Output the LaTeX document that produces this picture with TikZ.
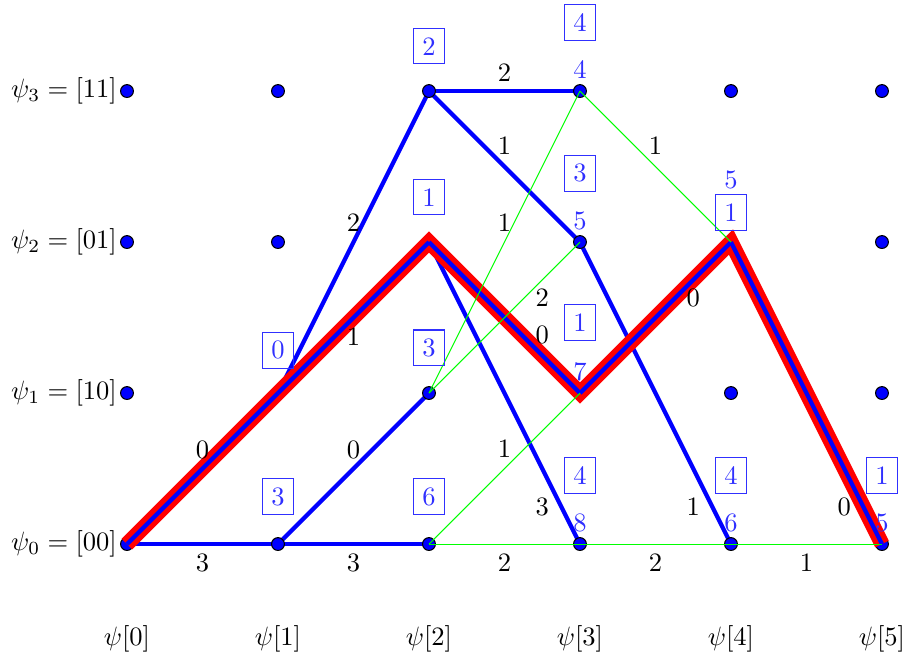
\documentclass[tikz,border=0pt]{standalone}
\usepackage{amsmath,amssymb}
\usepackage{xcolor}
\usepackage{tikz}
\usetikzlibrary{positioning}
\definecolor{branchblue}{HTML}{0000FF}
\definecolor{bestred}{HTML}{FF0000}
\definecolor{dropgreen}{HTML}{00FF00}
\definecolor{metricblue}{HTML}{3030FF}
\tikzset{
  state/.style={
    circle, draw=black, fill=branchblue, inner sep=0pt, minimum size=0.17cm
  },
  branch/.style={
    branchblue, ultra thick
  },
  dropbranch/.style={
    dropgreen, thin
  },
  bestpath/.style={
    bestred, line width=0.2cm
  },
  weight/.style={
    inner sep=1pt, text=black
  },
  metric/.style={
    rectangle, draw=metricblue, text=metricblue, inner sep=0.333em, thin
  },
  oldmetric/.style={
    text=metricblue, inner sep=1pt
  },
  statelab/.style={
    inner sep=1pt
  },
}

\begin{document}
\begin{tikzpicture}[x=2cm, y=2cm]
  \useasboundingbox (-0.841,-0.775) rectangle (5.179,3.603);

  % trellis points
  \foreach \i in {0,...,5}
    \foreach \j in {0,...,3}
      \coordinate (s-\i-\j) at (\i,\j);

  % surviving branches
  \draw[branch] (s-0-0) -- node[weight, yshift=-0.25cm] {3} (s-1-0);
  \draw[branch] (s-1-0) -- node[weight, yshift=-0.25cm] {3} (s-2-0);
  \draw[branch] (s-1-0) -- node[weight, yshift=0.25cm] {0} (s-2-1);
  \draw[branch] (s-1-1) -- node[weight, yshift=0.26cm] {2} (s-2-3);
  \draw[branch] (s-2-3) -- node[weight, yshift=0.25cm] {2} (s-3-3);
  \draw[branch] (s-2-3) -- node[weight, yshift=0.27cm] {1} (s-3-2);
  \draw[branch] (s-2-2) -- node[weight, pos=0.75, yshift=-0.51cm] {3} (s-3-0);
  \draw[branch] (s-3-2) -- node[weight, pos=0.75, yshift=-0.51cm] {1} (s-4-0);

  % states
  \foreach \i in {0,...,5}
    \foreach \j in {0,...,3}
      \node[state] (d-\i-\j) at (s-\i-\j) {};

  % best path
  \draw[bestpath] (s-0-0) -- (s-1-1) -- (s-2-2) -- (s-3-1) -- (s-4-2) -- (s-5-0);
  \draw[branch] (s-0-0) -- node[weight, yshift=0.25cm] {0} (s-1-1);
  \draw[branch] (s-1-1) -- node[weight, yshift=-0.25cm] {1} (s-2-2);
  \draw[branch] (s-2-2) -- node[weight, pos=0.75, yshift=0.27cm] {0} (s-3-1);
  \draw[branch] (s-3-1) -- node[weight, pos=0.75, yshift=-0.24cm] {0} (s-4-2);
  \draw[branch] (s-4-2) -- node[weight, pos=0.75, yshift=-0.51cm] {0} (s-5-0);

  % discarded branches
  \draw[dropbranch] (s-2-1) -- node[weight, yshift=0.26cm] {1} (s-3-3);
  \draw[dropbranch] (s-2-1) -- node[weight, pos=0.75, yshift=-0.24cm] {2} (s-3-2);
  \draw[dropbranch] (s-2-0) -- node[weight, yshift=0.26cm] {1} (s-3-1);
  \draw[dropbranch] (s-2-0) -- node[weight, yshift=-0.25cm] {2} (s-3-0);
  \draw[dropbranch] (s-3-3) -- node[weight, yshift=0.27cm] {1} (s-4-2);
  \draw[dropbranch] (s-3-0) -- node[weight, yshift=-0.25cm] {2} (s-4-0);
  \draw[dropbranch] (s-4-0) -- node[weight, yshift=-0.25cm] {1} (s-5-0);

  % path metrics
  \node[metric, above=0.23cm of d-1-1] (m-1-1) {0};
  \node[metric, above=0.29cm of d-1-0] (m-1-0) {3};
  \node[metric, above=0.26cm of d-2-3] (m-2-3) {2};
  \node[metric, above=0.26cm of d-2-2] (m-2-2) {1};
  \node[metric, above=0.26cm of d-2-1] (m-2-1) {3};
  \node[metric, above=0.29cm of d-2-0] (m-2-0) {6};

  \node[oldmetric, above=0.03cm of d-3-3] (o-3-3) {4};
  \node[metric, above=0.22cm of o-3-3] (m-3-3) {4};
  \node[oldmetric, above=0.03cm of d-3-2] (o-3-2) {5};
  \node[metric, above=0.22cm of o-3-2] (m-3-2) {3};
  \node[oldmetric, above=0.03cm of d-3-1] (o-3-1) {7};
  \node[metric, above=0.24cm of o-3-1] (m-3-1) {1};
  \node[oldmetric, above=0.03cm of d-3-0] (o-3-0) {8};
  \node[metric, above=0.22cm of o-3-0] (m-3-0) {4};

  \node[metric, above=0.06cm of d-4-2] (m-4-2) {1};
  \node[oldmetric, above=0.03cm of m-4-2] (o-4-2) {5};
  \node[oldmetric, above=0.03cm of d-4-0] (o-4-0) {6};
  \node[metric, above=0.22cm of o-4-0] (m-4-0) {4};
  \node[oldmetric, above=0.03cm of d-5-0] (o-5-0) {5};
  \node[metric, above=0.22cm of o-5-0] (m-5-0) {1};

  % state names
  \node[statelab, left=0pt of d-0-3] (l-3) {$\psi_3 = [11]$};
  \node[statelab, left=0pt of d-0-2] (l-2) {$\psi_2 = [01]$};
  \node[statelab, left=0pt of d-0-1] (l-1) {$\psi_1 = [10]$};
  \node[statelab, left=0pt of d-0-0] (l-0) {$\psi_0 = [00]$};

  % time steps
  \foreach \i in {0,...,5}
    \node[below=0.86cm of d-\i-0] (t-\i) {$\psi[\i]$};
\end{tikzpicture}
\end{document}
